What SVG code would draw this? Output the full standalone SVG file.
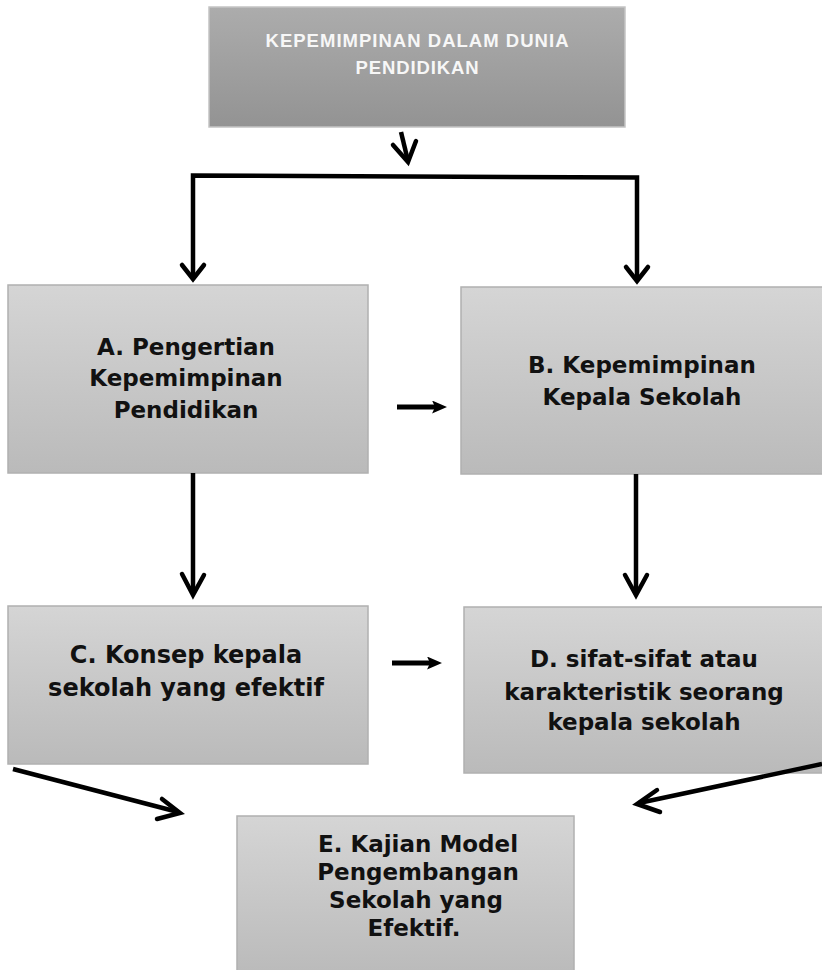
<svg xmlns="http://www.w3.org/2000/svg" width="822" height="970" viewBox="0 0 822 970">
  <defs>
    <linearGradient id="gTop" x1="0" y1="0" x2="0" y2="1">
      <stop offset="0" stop-color="#acacac"/>
      <stop offset="1" stop-color="#939393"/>
    </linearGradient>
    <linearGradient id="gBox" x1="0" y1="0" x2="0" y2="1">
      <stop offset="0" stop-color="#d5d5d5"/>
      <stop offset="1" stop-color="#bababa"/>
    </linearGradient>
    <marker id="solidHead" viewBox="0 0 10 10" refX="5.3" refY="5" markerWidth="3" markerHeight="2.6" preserveAspectRatio="none" orient="auto" markerUnits="strokeWidth">
      <path d="M0,0 L10,5 L0,10 L2,5 Z" fill="#000"/>
    </marker>
  </defs>
  <style>
    .box { fill: url(#gBox); stroke: #b0b0b0; stroke-width: 1.5; }
    .top { fill: url(#gTop); stroke: #c4c4c4; stroke-width: 1.5; }
    .lbl { font-family: "DejaVu Sans", Verdana, sans-serif; font-weight: bold; font-size: 23px; fill: #111; text-anchor: middle; }
    .lblTop { font-family: "Liberation Sans", Arial, sans-serif; font-weight: bold; font-size: 18.5px; fill: #f7f7f7; text-anchor: middle; }
    .wire { fill: none; stroke: #000; stroke-width: 4.5; stroke-linejoin: miter; stroke-linecap: butt; }
    .head { fill: none; stroke: #000; stroke-width: 4.5; stroke-linejoin: miter; stroke-linecap: round; }
    .short { fill: none; stroke: #000; stroke-width: 5; }
  </style>
  <rect width="822" height="970" fill="#fff"/>

  <!-- nodes -->
  <g id="root">
    <rect class="top" x="209" y="7" width="416" height="120"/>
    <text class="lblTop" x="417" y="47" textLength="303" lengthAdjust="spacing">KEPEMIMPINAN DALAM DUNIA</text>
    <text class="lblTop" x="417" y="74" textLength="123" lengthAdjust="spacing">PENDIDIKAN</text>
  </g>
  <g id="nodeA">
    <rect class="box" x="8" y="285" width="360" height="188"/>
    <text class="lbl" x="186" y="355">A. Pengertian</text>
    <text class="lbl" x="186" y="386">Kepemimpinan</text>
    <text class="lbl" x="186" y="418">Pendidikan</text>
  </g>
  <g id="nodeB">
    <rect class="box" x="461" y="287" width="362" height="187"/>
    <text class="lbl" x="642" y="373">B. Kepemimpinan</text>
    <text class="lbl" x="642" y="405">Kepala Sekolah</text>
  </g>
  <g id="nodeC">
    <rect class="box" x="8" y="606" width="360" height="158"/>
    <text class="lbl" x="186" y="663" style="font-size:24px">C. Konsep kepala</text>
    <text class="lbl" x="186" y="696" style="font-size:24px">sekolah yang efektif</text>
  </g>
  <g id="nodeD">
    <rect class="box" x="464" y="607" width="359" height="166"/>
    <text class="lbl" x="644" y="667">D. sifat-sifat atau</text>
    <text class="lbl" x="644" y="700">karakteristik seorang</text>
    <text class="lbl" x="644" y="730">kepala sekolah</text>
  </g>
  <g id="nodeE">
    <rect class="box" x="237" y="816" width="337" height="160"/>
    <text class="lbl" x="418" y="852">E. Kajian Model</text>
    <text class="lbl" x="418" y="880">Pengembangan</text>
    <text class="lbl" x="416" y="908">Sekolah yang</text>
    <text class="lbl" x="414" y="936">Efektif.</text>
  </g>

  <!-- connectors -->
  <g id="connectors">
    <!-- short arrow under the title -->
    <path class="wire" d="M401,132 L408,161"/>
    <path class="head" d="M393,145 L408,162 L416,141"/>
    <!-- split bracket -->
    <path class="wire" d="M193,277 L193,175.5 L637,177.5 L637,279"/>
    <path class="head" d="M182,265 L193,279 L204,265"/>
    <path class="head" d="M626,267 L637,281 L648,267"/>
    <!-- A to C, B to D -->
    <path class="wire" d="M193,473 L193,594"/>
    <path class="head" d="M182,574 L193,595 L204,575"/>
    <path class="wire" d="M636,474 L636,594"/>
    <path class="head" d="M625,575 L636,595 L647,575"/>
    <!-- A to B, C to D -->
    <path class="short" d="M397,407 L440,407" marker-end="url(#solidHead)"/>
    <path class="short" d="M392,663 L435,663" marker-end="url(#solidHead)"/>
    <!-- C to E, D to E -->
    <path class="wire" d="M13,769 L178,812"/>
    <path class="head" d="M162,799 L180,813 L157,819"/>
    <path class="wire" d="M822,764 L639,803"/>
    <path class="head" d="M657,790 L637,804 L660,812"/>
  </g>
</svg>
